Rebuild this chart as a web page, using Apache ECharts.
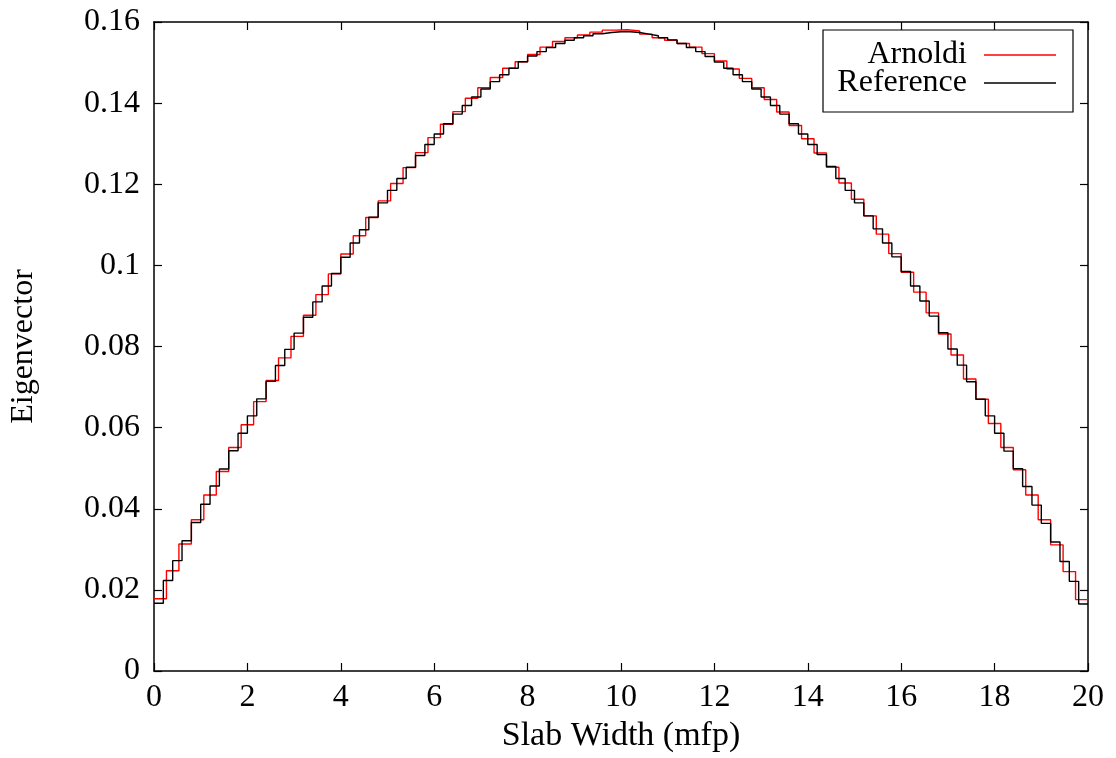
<!DOCTYPE html>
<html>
<head>
<meta charset="utf-8">
<script src="https://cdn.jsdelivr.net/npm/echarts@6/dist/echarts.min.js"></script>
<style>
  html, body { margin: 0; padding: 0; background: #fff; }
  #main { width: 1116px; height: 758px; }
</style>
</head>
<body>
<div id="main"></div>
<script>
// slab is 20 mfp wide, each series is a histogram over equal bins
const slabWidth = 20;
const xTicks = [0, 2, 4, 6, 8, 10, 12, 14, 16, 18, 20];

// Arnoldi (red), 75 bins
const arnoldi = [
  0.0178, 0.0247, 0.0313, 0.0373, 0.0434, 0.0492, 0.0551, 0.0607, 0.0664, 0.0716,
  0.0772, 0.0825, 0.0877, 0.0928, 0.0979, 0.1028, 0.1073, 0.1118, 0.1159, 0.1202,
  0.1241, 0.1278, 0.1315, 0.1348, 0.1379, 0.1412, 0.1438, 0.1463, 0.1486, 0.1502,
  0.1520, 0.1538, 0.1552, 0.1561, 0.1568, 0.1575, 0.1580, 0.1581, 0.1578, 0.1570,
  0.1561, 0.1555, 0.1547, 0.1538, 0.1522, 0.1504, 0.1484, 0.1461, 0.1438, 0.1409,
  0.1378, 0.1345, 0.1312, 0.1277, 0.1242, 0.1203, 0.1163, 0.1122, 0.1077, 0.1029,
  0.0983, 0.0934, 0.0883, 0.0831, 0.0779, 0.0720, 0.0670, 0.0610, 0.0551, 0.0496,
  0.0434, 0.0373, 0.0311, 0.0245, 0.0176
];

// Reference (black), 100 bins
const reference = [
  0.0167, 0.0223, 0.0272, 0.0321, 0.0366, 0.0411, 0.0456, 0.0498, 0.0543, 0.0586,
  0.0629, 0.0671, 0.0714, 0.0753, 0.0793, 0.0833, 0.0872, 0.0910, 0.0949, 0.0980,
  0.1020, 0.1055, 0.1088, 0.1119, 0.1154, 0.1185, 0.1214, 0.1242, 0.1271, 0.1298,
  0.1324, 0.1349, 0.1373, 0.1394, 0.1415, 0.1435, 0.1453, 0.1470, 0.1486, 0.1502,
  0.1516, 0.1527, 0.1537, 0.1547, 0.1555, 0.1561, 0.1566, 0.1571, 0.1574, 0.1576,
  0.1576, 0.1574, 0.1570, 0.1566, 0.1561, 0.1556, 0.1547, 0.1537, 0.1527, 0.1515,
  0.1501, 0.1486, 0.1470, 0.1453, 0.1435, 0.1415, 0.1394, 0.1373, 0.1349, 0.1324,
  0.1298, 0.1273, 0.1244, 0.1214, 0.1185, 0.1154, 0.1122, 0.1090, 0.1055, 0.1021,
  0.0985, 0.0949, 0.0912, 0.0875, 0.0834, 0.0794, 0.0754, 0.0713, 0.0670, 0.0629,
  0.0586, 0.0542, 0.0499, 0.0455, 0.0409, 0.0364, 0.0318, 0.0270, 0.0221, 0.0165
];

const FONT = '"Liberation Serif", "DejaVu Serif", serif';
const FS = 32;

// bin left edges + closing point at slab end, drawn with step 'end'
function toSteps(vals) {
  const w = slabWidth / vals.length;
  const pts = vals.map((v, i) => [i * w, v]);
  pts.push([slabWidth, vals[vals.length - 1]]);
  return pts;
}

const chart = echarts.init(document.getElementById('main'), null, { renderer: 'canvas' });

const axisCommon = {
  type: 'value',
  axisLine: { show: true, onZero: false, lineStyle: { color: '#000', width: 1.5 } },
  axisTick: { show: true, inside: true, length: 8, lineStyle: { color: '#000', width: 1.2 } },
  splitLine: { show: false }
};

const option = {
  animation: false,
  backgroundColor: '#fff',
  grid: { left: 152, right: 28, top: 22, bottom: 86, containLabel: false },
  legend: {
    show: true,
    orient: 'vertical',
    left: 823,
    top: 30,
    align: 'right',
    icon: 'rect',
    itemWidth: 72,
    itemHeight: 1.5,
    itemGap: -4,
    padding: [9, 17, 13, 10],
    borderColor: '#000',
    borderWidth: 1.2,
    backgroundColor: '#fff',
    formatter: name => '{t|' + name + '}',
    textStyle: {
      fontFamily: FONT, fontSize: FS, color: '#000', lineHeight: 27,
      rich: {
        t: {
          width: 134, align: 'right', padding: [0, 12, 0, 0],
          fontFamily: FONT, fontSize: FS, color: '#000', lineHeight: 27
        }
      }
    },
    data: ['Arnoldi', 'Reference']
  },
  xAxis: [
    Object.assign({}, axisCommon, {
      position: 'bottom',
      min: 0, max: slabWidth, interval: 2,
      name: 'Slab Width (mfp)',
      nameLocation: 'middle',
      nameGap: 48,
      nameTextStyle: { fontFamily: FONT, fontSize: 34, color: '#000' },
      axisLabel: {
        margin: 11, fontFamily: FONT, fontSize: FS, color: '#000',
        customValues: xTicks
      }
    }),
    Object.assign({}, axisCommon, {
      position: 'top',
      min: 0, max: slabWidth, interval: 2,
      axisLabel: { show: false }
    })
  ],
  yAxis: [
    Object.assign({}, axisCommon, {
      position: 'left',
      min: 0, max: 0.16, interval: 0.02,
      name: 'Eigenvector',
      nameLocation: 'middle',
      nameRotate: 90,
      nameGap: 114,
      nameTextStyle: { fontFamily: FONT, fontSize: FS, color: '#000' },
      axisLabel: { margin: 14, fontFamily: FONT, fontSize: FS, color: '#000' }
    }),
    Object.assign({}, axisCommon, {
      position: 'right',
      min: 0, max: 0.16, interval: 0.02,
      axisLabel: { show: false }
    })
  ],
  series: [
    {
      name: 'Arnoldi',
      type: 'line',
      step: 'end',
      symbol: 'none',
      xAxisIndex: 0, yAxisIndex: 0,
      lineStyle: { color: '#ff0000', width: 1.4 },
      itemStyle: { color: '#ff0000' },
      data: toSteps(arnoldi)
    },
    {
      name: 'Reference',
      type: 'line',
      step: 'end',
      symbol: 'none',
      xAxisIndex: 0, yAxisIndex: 0,
      lineStyle: { color: '#000', width: 1.4 },
      itemStyle: { color: '#000' },
      data: toSteps(reference)
    }
  ]
};

chart.setOption(option);
</script>
</body>
</html>
